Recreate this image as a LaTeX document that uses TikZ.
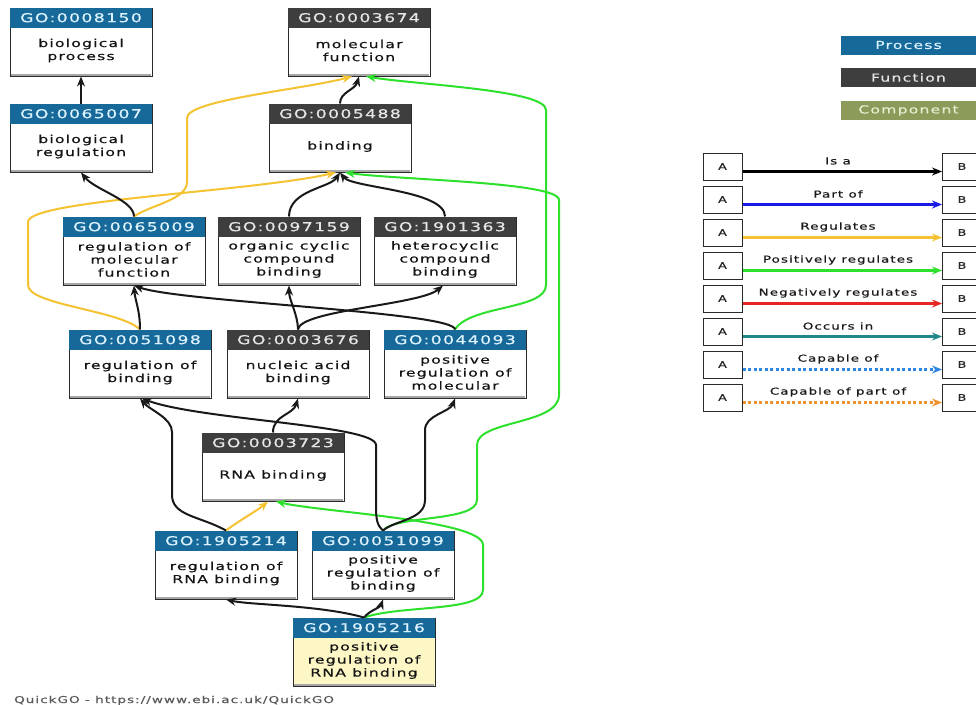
\documentclass[tikz,border=0pt]{standalone}
\usepackage{fontspec}
\setmainfont{DejaVu Sans}[FakeStretch=1.42,LetterSpace=11,FakeBold=0.5]
\usetikzlibrary{arrows.meta,calc}
\definecolor{procblue}{HTML}{17699A}
\definecolor{funcgray}{HTML}{3E3E3E}
\definecolor{compgreen}{HTML}{8C9B5A}
\definecolor{proctext}{HTML}{DDF3FF}
\definecolor{functext}{HTML}{E6E6E6}
\definecolor{comptext}{HTML}{E6EED0}
\definecolor{regyellow}{HTML}{F5C232}
\definecolor{posgreen}{HTML}{2CE02C}
\definecolor{negred}{HTML}{E82525}
\definecolor{occteal}{HTML}{208888}
\definecolor{capblue}{HTML}{2F86E0}
\definecolor{caporange}{HTML}{F0922E}
\definecolor{partblue}{HTML}{1A1AE6}
\definecolor{boxline}{HTML}{2A2A2A}
\definecolor{lightyellow}{HTML}{FDF7C6}
\newcommand\gonode[7]{%
  \node[gobody, fill=#7] (#1) at (#2,#3+34) {};
  \draw[shadowline] ($(#1.south west)+(1.5,-1.2)$) -- ($(#1.south east)+(-1.5,-1.2)$);
  \node[gohead, #4, anchor=north] (#1h) at (#1.north) {#5};
  \node[gotext] (#1t) at ($(#1.center)+(0,8.5)$) {#6};
}
\newcommand\legrow[4]{%
  \node[abox] (a#1) at (722.5,#2+13.5) {A};
  \node[abox] (b#1) at (962,#2+13.5) {B};
  \draw[legarrow, #4] ($(a#1.east)+(0,5)$) -- ($(b#1.west)+(0,5)$);
  \node[leglabel] (l#1) at (838,#2+8) {#3};
}
\begin{document}
\begin{tikzpicture}[x=1pt,y=-1pt,
  gobody/.style={draw=boxline, line width=1pt, minimum width=142pt, minimum height=68pt, inner sep=0pt},
  gohead/.style={minimum width=142pt, minimum height=20pt, inner sep=0pt, font=\fontsize{12.2}{13}\selectfont},
  procH/.style={fill=procblue, text=proctext},
  funcH/.style={fill=funcgray, text=functext},
  gotext/.style={align=center, inner sep=0pt, text=black!92, font=\fontsize{11}{13}\selectfont},
  shadowline/.style={draw=black!35, line width=2pt},
  isa/.style={draw=black!90, line width=2pt, -{Stealth[length=10pt,width=8pt]}},
  regs/.style={isa, draw=regyellow},
  posr/.style={isa, draw=posgreen},
  abox/.style={draw=boxline, line width=1pt, fill=white, minimum width=39pt, minimum height=27pt, inner sep=0pt, font=\fontsize{9}{11}\selectfont, text=black!85},
  leglabel/.style={inner sep=0pt, font=\fontsize{9.5}{11}\selectfont, text=black!90},
  legbar/.style={minimum width=135pt, minimum height=19pt, inner sep=0pt, font=\fontsize{11}{13}\selectfont},
  legarrow/.style={line width=2.2pt, -{Stealth[length=10pt,width=8pt]}}
]
\useasboundingbox (0,0) rectangle (976,704);
\fill[white] (0,0) rectangle (976,704);

% nodes
\gonode{n8150}{81}{8}{procH}{GO:0008150}{biological\\process}{white}
\gonode{n65007}{81}{104}{procH}{GO:0065007}{biological\\regulation}{white}
\gonode{n3674}{359}{8}{funcH}{GO:0003674}{molecular\\function}{white}
\gonode{n5488}{340}{104}{funcH}{GO:0005488}{binding}{white}
\gonode{n65009}{134}{217}{procH}{GO:0065009}{regulation of\\molecular\\function}{white}
\gonode{n97159}{289}{217}{funcH}{GO:0097159}{organic cyclic\\compound\\binding}{white}
\gonode{n1901363}{445}{217}{funcH}{GO:1901363}{heterocyclic\\compound\\binding}{white}
\gonode{n51098}{140}{330}{procH}{GO:0051098}{regulation of\\binding}{white}
\gonode{n3676}{298}{330}{funcH}{GO:0003676}{nucleic acid\\binding}{white}
\gonode{n44093}{455}{330}{procH}{GO:0044093}{positive\\regulation of\\molecular}{white}
\gonode{n3723}{273}{433}{funcH}{GO:0003723}{RNA binding}{white}
\gonode{n1905214}{226}{531}{procH}{GO:1905214}{regulation of\\RNA binding}{white}
\gonode{n51099}{383}{531}{procH}{GO:0051099}{positive\\regulation of\\binding}{white}
\gonode{n1905216}{364}{618}{procH}{GO:1905216}{positive\\regulation of\\RNA binding}{lightyellow}

% regulates (yellow)
\draw[regs] (n65009.north) .. controls (150,205) and (187,200) .. (187,182) -- (187,118)
  .. controls (187,100) and (300,90) .. ($(n3674.south)+(-7,0)$);
\draw[regs] (n51098.north) .. controls (120,310) and (28,305) .. (28,285) -- (28,222)
  .. controls (28,200) and (250,192) .. ($(n5488.south)+(-4,0)$);
\draw[regs] (n1905214.north) .. controls (240,520) and (258,510) .. ($(n3723.south)+(-5,0)$);

% positively regulates (green)
\draw[posr] (n44093.north) .. controls (470,305) and (546,310) .. (546,285) -- (546,110)
  .. controls (546,90) and (420,85) .. ($(n3674.south)+(7,0)$);
\draw[posr] (n51099.north) .. controls (395,515) and (477,522) .. (477,500) -- (477,445)
  .. controls (477,420) and (559,425) .. (559,395) -- (559,200)
  .. controls (559,182) and (400,180) .. ($(n5488.south)+(5,0)$);
\draw[posr] (n1905216.north) .. controls (400,605) and (483,612) .. (483,590) -- (483,545)
  .. controls (483,520) and (320,512) .. ($(n3723.south)+(3,0)$);

% is a (black)
\draw[isa] (n65007.north) -- (n8150.south);
\draw[isa] (n65009.north) .. controls (134,200) and (95,190) .. (n65007.south);
\draw[isa] (n5488.north) .. controls (340,92) and (355,90) .. (n3674.south);
\draw[isa] (n97159.north) .. controls (289,190) and (330,188) .. (n5488.south);
\draw[isa] (n1901363.north) .. controls (445,190) and (352,188) .. (n5488.south);
\draw[isa] (n51098.north) .. controls (140,310) and (135,300) .. (n65009.south);
\draw[isa] (n44093.north) .. controls (455,312) and (180,302) .. (n65009.south);
\draw[isa] (n3676.north) .. controls (298,315) and (289,300) .. (n97159.south);
\draw[isa] (n3676.north) .. controls (300,310) and (420,305) .. ($(n1901363.south)+(-2,0)$);
\draw[isa] (n3723.north) .. controls (273,415) and (293,415) .. (n3676.south);
\draw[isa] (n1905214.north) .. controls (200,516) and (172,516) .. (172,495) -- (172,432)
  .. controls (172,418) and (150,410) .. (n51098.south);
\draw[isa] (n51099.north) .. controls (377,525) and (376,520) .. (376,505) -- (376,445)
  .. controls (376,425) and (200,420) .. ($(n51098.south)+(2,0)$);
\draw[isa] (n51099.north) .. controls (395,520) and (425,520) .. (425,500) -- (425,430)
  .. controls (425,415) and (450,412) .. (n44093.south);
\draw[isa] (n1905216.north) .. controls (320,605) and (250,605) .. (n1905214.south);
\draw[isa] (n1905216.north) .. controls (370,610) and (380,608) .. (n51099.south);

% legend
\node[legbar, fill=procblue, text=proctext] (lproc) at (908.5,45) {Process};
\node[legbar, fill=funcgray, text=functext] (lfunc) at (908.5,77.5) {Function};
\node[legbar, fill=compgreen, text=comptext] (lcomp) at (908.5,110.5) {Component};

\legrow{1}{153}{Is a}{draw=black}
\legrow{2}{186}{Part of}{draw=partblue}
\legrow{3}{219}{Regulates}{draw=regyellow}
\legrow{4}{252}{Positively regulates}{draw=posgreen}
\legrow{5}{285}{Negatively regulates}{draw=negred}
\legrow{6}{318}{Occurs in}{draw=occteal}
\legrow{7}{351}{Capable of}{draw=capblue, line width=2.4pt, dash pattern=on 3pt off 2.5pt}
\legrow{8}{384}{Capable of part of}{draw=caporange, line width=2.4pt, dash pattern=on 3pt off 2.5pt}

% footer
\node[anchor=base west, inner sep=0pt, text=black!65, font=\fontsize{9.5}{11}\selectfont] (foot) at (14,703) {QuickGO - https://www.ebi.ac.uk/QuickGO};
\end{tikzpicture}
\end{document}
